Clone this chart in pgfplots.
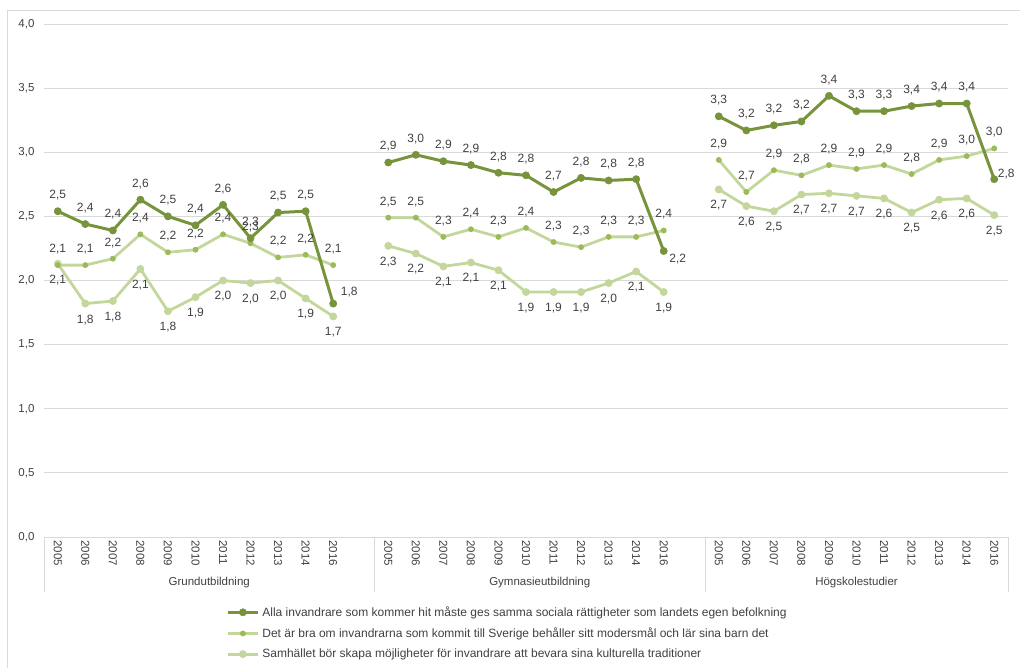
\documentclass[border=0pt]{standalone}
\usepackage{pgfplots}
\pgfplotsset{compat=1.18}
\usepackage{pgfplotstable}
\usepackage{fontspec}
\setmainfont{Liberation Sans}

\definecolor{darkgr}{HTML}{77933C}
\definecolor{midgr}{HTML}{9BBB59}
\definecolor{lightgr}{HTML}{C3D69B}
\definecolor{txt}{HTML}{404040}
\definecolor{gridc}{HTML}{D9D9D9}

% x a b c : the three statements; dx dy : label offset for series a
\pgfplotstableread{
x  a    b    c    dx dy
0  2.54 2.12 2.13 0  16
1  2.44 2.12 1.82 0  16
2  2.39 2.17 1.84 0  16
3  2.63 2.36 2.09 0  16
4  2.50 2.22 1.76 0  16
5  2.43 2.24 1.87 0  16
6  2.59 2.36 2.00 0  16
7  2.33 2.29 1.98 0  16
8  2.53 2.18 2.00 0  16
9  2.54 2.20 1.86 0  16
10 1.82 2.12 1.72 16 12
}\grund
\pgfplotstableread{
x  a    b    c    dx dy
12 2.92 2.49 2.27 0  16
13 2.98 2.49 2.21 0  16
14 2.93 2.34 2.11 0  16
15 2.90 2.40 2.14 0  16
16 2.84 2.34 2.08 0  16
17 2.82 2.41 1.91 0  16
18 2.69 2.30 1.91 0  16
19 2.80 2.26 1.91 0  16
20 2.78 2.34 1.98 0  16
21 2.79 2.34 2.07 0  16
22 2.23 2.39 1.91 14 -8
}\gymn
\pgfplotstableread{
x  a    b    c    dx dy
24 3.28 2.94 2.71 0  16
25 3.17 2.69 2.58 0  16
26 3.21 2.86 2.54 0  16
27 3.24 2.82 2.67 0  16
28 3.44 2.90 2.68 0  16
29 3.32 2.87 2.66 0  16
30 3.32 2.90 2.64 0  16
31 3.36 2.83 2.53 0  16
32 3.38 2.94 2.63 0  16
33 3.38 2.97 2.64 0  16
34 2.79 3.03 2.51 12 5
}\hogsk

\newcommand\lbl{\pgfmathprintnumber[fixed,fixed zerofill,precision=1,use comma,assume math mode=true]{\pgfplotspointmeta}}

\pgfplotsset{
  lineA/.style={color=darkgr, line width=3pt, mark=*, mark size=3.6pt,
    mark options={line width=0.6pt, fill=darkgr}},
  lineB/.style={color=lightgr, line width=2.8pt, mark=*, mark size=2.6pt,
    mark options={line width=0.6pt, draw=midgr, fill=midgr}},
  lineC/.style={color=lightgr, line width=2.8pt, mark=*, mark size=3.6pt,
    mark options={line width=0.6pt, fill=lightgr}},
  lab/.style={nodes near coords={\lbl},
    every node near coord/.append style={font=\fontsize{12}{14}\selectfont, text=txt, anchor=center, inner sep=0pt, yshift=#1}},
  serA/.style={lineA, forget plot, nodes near coords={\lbl},
    visualization depends on={\thisrow{dx}\as\ldx},
    visualization depends on={\thisrow{dy}\as\ldy},
    every node near coord/.append style={font=\fontsize{12}{14}\selectfont, text=txt, anchor=center, inner sep=0pt, xshift=\ldx pt, yshift=\ldy pt}},
  serB/.style={lineB, forget plot, lab=16pt},
  serC/.style={lineC, forget plot, lab=-16pt},
}

\begin{document}
\begin{tikzpicture}
\useasboundingbox (0pt,0pt) rectangle (1020pt,668pt);
\draw[gridc, line width=0.8pt] (7pt,0pt) -- (7pt,658pt) -- (1020pt,658pt);
\begin{axis}[
  at={(44pt,131pt)}, anchor=south west,
  scale only axis, width=964pt, height=513pt,
  xmin=-0.5, xmax=34.5, ymin=0, ymax=4,
  ytick={0,0.5,1,1.5,2,2.5,3,3.5,4},
  xtick={0,1,2,3,4,5,6,7,8,9,10,12,13,14,15,16,17,18,19,20,21,22,24,25,26,27,28,29,30,31,32,33,34},
  xticklabels={2005,2006,2007,2008,2009,2010,2011,2012,2013,2014,2016,
               2005,2006,2007,2008,2009,2010,2011,2012,2013,2014,2016,
               2005,2006,2007,2008,2009,2010,2011,2012,2013,2014,2016},
  xticklabel style={rotate=-90, anchor=west, font=\fontsize{11.5}{13}\selectfont, text=txt},
  yticklabel style={font=\fontsize{11.5}{13}\selectfont, text=txt, xshift=-6pt,
    /pgf/number format/.cd, fixed, fixed zerofill, precision=1, use comma, assume math mode=true},
  major tick length=0pt,
  ymajorgrids, grid style={gridc, line width=0.8pt},
  axis x line*=bottom, axis y line*=left,
  x axis line style={gridc, line width=0.8pt, -},
  y axis line style={draw=none},
  clip=false,
  legend cell align=left,
  legend style={at={(0.189,-0.1355)}, anchor=north west, draw=none, fill=none,
    font=\fontsize{12}{14}\selectfont, text=txt, row sep=10pt, inner sep=0pt,
    nodes={inner xsep=3pt, inner ysep=0pt}},
  legend image code/.code={\draw[mark repeat=2,mark phase=2,#1] plot coordinates {(0pt,0pt) (15pt,0pt) (30pt,0pt)};},
]
\addplot[serC] table[x=x,y=c] {\grund};
\addplot[serB] table[x=x,y=b] {\grund};
\addplot[serA] table[x=x,y=a] {\grund};
\addplot[serC] table[x=x,y=c] {\gymn};
\addplot[serB] table[x=x,y=b] {\gymn};
\addplot[serA] table[x=x,y=a] {\gymn};
\addplot[serC] table[x=x,y=c] {\hogsk};
\addplot[serB] table[x=x,y=b] {\hogsk};
\addplot[serA] table[x=x,y=a] {\hogsk};
\addlegendimage{lineA}
\addlegendentry{Alla invandrare som kommer hit måste ges samma sociala rättigheter som landets egen befolkning}
\addlegendimage{lineB}
\addlegendentry{Det är bra om invandrarna som kommit till Sverige behåller sitt modersmål och lär sina barn det}
\addlegendimage{lineC}
\addlegendentry{Samhället bör skapa möjligheter för invandrare att bevara sina kulturella traditioner}
\draw[gridc, line width=0.8pt] (axis cs:-0.5,0) -- ++(0pt,-55pt);
\draw[gridc, line width=0.8pt] (axis cs:11.5,0) -- ++(0pt,-55pt);
\draw[gridc, line width=0.8pt] (axis cs:23.5,0) -- ++(0pt,-55pt);
\draw[gridc, line width=0.8pt] (axis cs:34.5,0) -- ++(0pt,-55pt);
\node[font=\fontsize{11.5}{13}\selectfont, text=txt] at ([yshift=-46pt]axis cs:5.5,0) {Grundutbildning};
\node[font=\fontsize{11.5}{13}\selectfont, text=txt] at ([yshift=-46pt]axis cs:17.5,0) {Gymnasieutbildning};
\node[font=\fontsize{11.5}{13}\selectfont, text=txt] at ([yshift=-46pt]axis cs:29,0) {Högskolestudier};
\end{axis}
\end{tikzpicture}
\end{document}
